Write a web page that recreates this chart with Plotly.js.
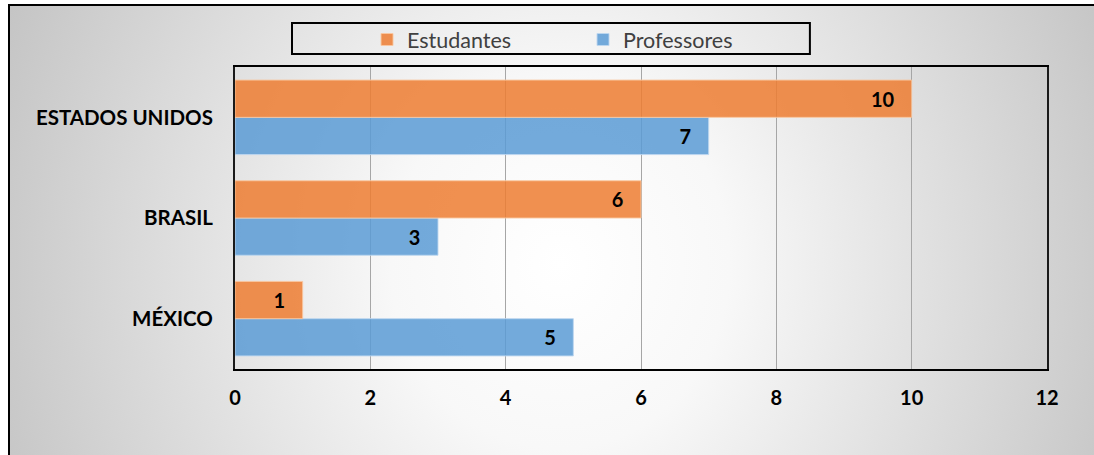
<!DOCTYPE html>
<html>
<head>
<meta charset="utf-8">
<script src="https://cdn.plot.ly/plotly-3.0.1.min.js"></script>
<style>
  html, body { margin: 0; padding: 0; background: #ffffff; }
  #wrap { position: relative; width: 1094px; height: 455px; overflow: hidden; background: #ffffff; }
  #frame {
    position: absolute; left: 8px; top: 4px; width: 1100px; height: 470px;
    border: 2px solid #000000;
    background: radial-gradient(ellipse 55% 140% at 50% 55%, #ffffff 0%, #f8f8f8 28%, #c4c4c4 100%);
  }
  #chart { position: absolute; left: 0; top: 0; width: 1094px; height: 455px; }
</style>
</head>
<body>
<div id="wrap">
  <div id="frame"></div>
  <div id="chart"></div>
</div>
<script>
// ---- data ----
const categories = ['MÉXICO', 'BRASIL', 'ESTADOS UNIDOS'];
const estudantes = [1, 6, 10];
const professores = [5, 3, 7];
const seriesNames = ['Estudantes', 'Professores'];
const xTicks = [0, 2, 4, 6, 8, 10, 12];

const labelFont = { family: 'Lato, "Open Sans", sans-serif', size: 20, color: '#000000', weight: 'bold' };
const catFont = { family: 'Lato, "Open Sans", sans-serif', size: 20.5, color: '#000000', weight: 'bold' };

const traceProf = {
  type: 'bar', orientation: 'h', name: seriesNames[1],
  y: categories, x: professores,
  marker: { color: 'rgba(91,155,213,0.85)', line: { color: 'rgba(190,215,240,0.9)', width: 1 } },
  texttemplate: '%{x}\u00a0\u00a0\u00a0', textposition: 'inside', insidetextanchor: 'end',
  insidetextfont: labelFont, constraintext: 'none',
  legendrank: 2, hoverinfo: 'x+y+name'
};
const traceEst = {
  type: 'bar', orientation: 'h', name: seriesNames[0],
  y: categories, x: estudantes,
  marker: { color: 'rgba(237,125,49,0.85)', line: { color: 'rgba(250,200,160,0.9)', width: 1 } },
  texttemplate: '%{x}\u00a0\u00a0\u00a0', textposition: 'inside', insidetextanchor: 'end',
  insidetextfont: labelFont, constraintext: 'none',
  legendrank: 1, hoverinfo: 'x+y+name'
};

const layout = {
  width: 1094, height: 455,
  margin: { l: 235, r: 47, t: 67, b: 86, pad: 0 },
  paper_bgcolor: 'rgba(0,0,0,0)',
  plot_bgcolor: 'rgba(0,0,0,0)',
  barmode: 'group',
  bargap: 0.26, bargroupgap: 0,
  showlegend: true,
  legend: {
    orientation: 'h', x: 0.1626, xanchor: 'left', y: 1.091, yanchor: 'middle',
    bgcolor: 'rgba(0,0,0,0)', borderwidth: 0,
    font: { family: 'Lato, "Open Sans", sans-serif', size: 21.5, color: '#404040' },
    entrywidth: 171, entrywidthmode: 'pixels', traceorder: 'normal'
  },
  xaxis: {
    range: [0, 12], tickvals: xTicks, ticktext: xTicks.map(String),
    showgrid: true, gridcolor: '#a6a6a6', gridwidth: 1,
    zeroline: false, showline: true, mirror: true, linecolor: '#000000', linewidth: 2,
    ticks: '', ticklabelstandoff: 10,
    tickfont: labelFont, fixedrange: true
  },
  yaxis: {
    type: 'category', categoryorder: 'array', categoryarray: categories,
    showgrid: false, zeroline: false, showline: true, mirror: true,
    linecolor: '#1a1a1a', linewidth: 2,
    ticks: '', ticklabelstandoff: 16,
    tickfont: catFont, fixedrange: true
  },
  shapes: [{
    type: 'rect', xref: 'paper', yref: 'paper',
    x0: 0.0702, x1: 0.708, y0: 1.043, y1: 1.1457,
    line: { color: '#000000', width: 2 }, fillcolor: 'rgba(0,0,0,0)', layer: 'above'
  }]
};

Plotly.newPlot('chart', [traceProf, traceEst], layout, { displayModeBar: false, staticPlot: true });
</script>
</body>
</html>
